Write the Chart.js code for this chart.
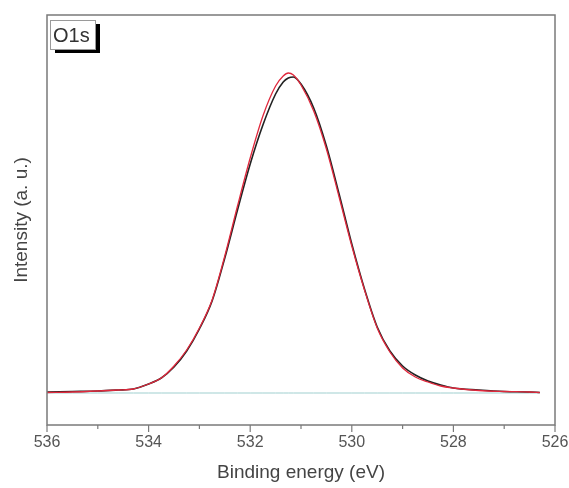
<!DOCTYPE html>
<html>
<head>
<meta charset="utf-8">
<script src="https://cdn.jsdelivr.net/npm/chart.js@4.4.0/dist/chart.umd.min.js"></script>
<style>
html,body{margin:0;padding:0;background:#fff;}
#wrap{width:569px;height:488px;position:relative;}
</style>
</head>
<body>
<div id="wrap"><canvas id="c" width="569" height="488"></canvas></div>
<script>
// Binding energy (eV)
const energy = [536.0, 535.5, 535.0, 534.6, 534.3, 534.0, 533.75, 533.5, 533.25, 533.0, 532.75, 532.5, 532.25, 532.0, 531.75, 531.5, 531.35, 531.25, 531.15, 531.0, 530.75, 530.5, 530.25, 530.0, 529.75, 529.5, 529.25, 529.0, 528.75, 528.5, 528.25, 528.0, 527.5, 527.0, 526.5, 526.3];
// Measured spectrum (black)
const measured = [1, 1.5, 2, 3, 4, 9, 15, 26, 42, 64, 92, 135, 183, 229, 268, 299, 311, 315, 316, 309, 285, 247, 199, 149, 104, 66, 42, 27, 18, 12, 8, 5, 3, 1.5, 1, 0.5];
// Fitted envelope (red)
const fitted = [0.5, 1, 2, 3, 4, 9, 15, 27, 43, 65, 93, 137, 187, 235, 277, 307, 317, 320, 318, 308, 282, 244, 196, 147, 103, 65, 41, 25, 16, 11, 7, 5, 2.5, 1.5, 1, 0.5];
// Background (baseline)
const background = [0, 0, 0, 0, 0, 0, 0, 0, 0, 0, 0, 0, 0, 0, 0, 0, 0, 0, 0, 0, 0, 0, 0, 0, 0, 0, 0, 0, 0, 0, 0, 0, 0, 0, 0, 0];
const xTicks = [526, 527, 528, 529, 530, 531, 532, 533, 534, 535, 536];
const peakLabel = 'O1s';
const xTitle = 'Binding energy (eV)';
const yTitle = 'Intensity (a. u.)';

const toXY = (ys) => energy.map((e, i) => ({x: e, y: ys[i]}));

const framePlugin = {
  id: 'frame',
  afterDraw(chart) {
    const {ctx, chartArea: a, scales} = chart;
    ctx.save();
    ctx.strokeStyle = '#7a7a7a';
    ctx.lineWidth = 1.5;
    ctx.strokeRect(a.left, a.top, a.right - a.left, a.bottom - a.top);
    // ticks
    ctx.lineWidth = 1.2;
    xTicks.forEach(v => {
      const px = scales.x.getPixelForValue(v);
      const len = (v % 2 === 0) ? 7 : 4;
      ctx.beginPath();
      ctx.moveTo(px, a.bottom);
      ctx.lineTo(px, a.bottom + len);
      ctx.stroke();
    });
    // label box
    const bx = a.left + 3, by = a.top + 5, bw = 45, bh = 29;
    ctx.fillStyle = '#000';
    ctx.fillRect(bx + 5, by + 4, bw, bh);
    ctx.fillStyle = '#fff';
    ctx.fillRect(bx, by, bw, bh);
    ctx.strokeStyle = '#9a9a9a';
    ctx.lineWidth = 1;
    ctx.strokeRect(bx + 0.5, by + 0.5, bw, bh);
    ctx.fillStyle = '#333';
    ctx.font = '20px "Liberation Sans", Arial, sans-serif';
    ctx.textBaseline = 'alphabetic';
    ctx.textAlign = 'left';
    ctx.fillText(peakLabel, bx + 3, by + 22);
    ctx.restore();
  }
};

new Chart(document.getElementById('c'), {
  type: 'line',
  data: {
    datasets: [
      {data: toXY(background), borderColor: '#9fcfcf', borderWidth: 1, pointRadius: 0, tension: 0, order: 3},
      {data: toXY(measured), borderColor: '#222222', borderWidth: 1.6, pointRadius: 0, cubicInterpolationMode: 'monotone', order: 2},
      {data: toXY(fitted), borderColor: '#e0283c', borderWidth: 1.3, pointRadius: 0, cubicInterpolationMode: 'monotone', order: 1}
    ]
  },
  options: {
    responsive: false,
    animation: false,
    parsing: true,
    layout: {padding: {top: 15, right: 14, left: 0, bottom: 0}},
    plugins: {legend: {display: false}, tooltip: {enabled: false}},
    scales: {
      x: {
        type: 'linear',
        reverse: true,
        min: 526, max: 536,
        afterBuildTicks(scale) { scale.ticks = xTicks.map(v => ({value: v})); },
        afterFit(scale) { scale.height = 63; },
        grid: {display: false, drawTicks: false},
        border: {display: false},
        ticks: {
          autoSkip: false, maxRotation: 0, padding: 8,
          color: '#555',
          font: {family: '"Liberation Sans", Arial, sans-serif', size: 16},
          callback: (v) => (v % 2 === 0 ? String(v) : '')
        },
        title: {
          display: true, text: xTitle, color: '#444',
          font: {family: '"Liberation Sans", Arial, sans-serif', size: 19},
          padding: {top: 4, bottom: 4}
        }
      },
      y: {
        min: -32, max: 378,
        afterFit(scale) { scale.width = 47; },
        grid: {display: false, drawTicks: false},
        border: {display: false},
        ticks: {display: false},
        title: {
          display: true, text: yTitle, color: '#444',
          font: {family: '"Liberation Sans", Arial, sans-serif', size: 19},
          padding: {top: 10, bottom: 0}
        }
      }
    }
  },
  plugins: [framePlugin]
});
</script>
</body>
</html>
